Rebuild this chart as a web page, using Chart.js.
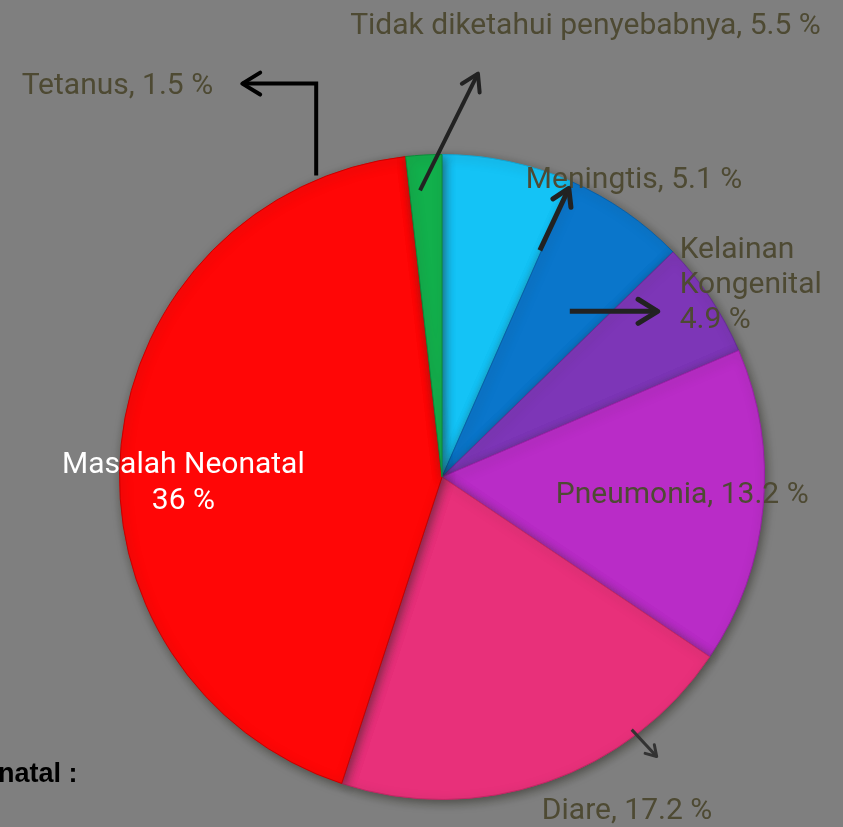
<!DOCTYPE html>
<html><head><meta charset="utf-8">
<script src="https://cdn.jsdelivr.net/npm/chart.js@4"></script>
<style>
html,body{margin:0;padding:0;background:#7f7f7f;overflow:hidden}
#wrap{width:843px;height:827px;position:relative}
</style>
</head><body><div id="wrap"><canvas id="c" width="843" height="827"></canvas></div>
<script>
// ---- data ----
const categories = ['Tidak diketahui penyebabnya', 'Meningtis', 'Kelainan Kongenital', 'Pneumonia', 'Diare', 'Masalah Neonatal', 'Tetanus'];
const values = [5.5, 5.1, 4.9, 13.2, 17.2, 36, 1.5];
const sliceColors = ['#14c3f6', '#0a76cb', '#7d36b7', '#b92cc7', '#e8307a', '#ff0606', '#12b04c'];
const sliceBorders = ['#0ea7d6', '#0760a8', '#652c96', '#9a20a8', '#c42665', '#c80000', '#0c8c3a'];
const sideCaption = 'Masalah Neonatal :';

// ---- annotation layout (offsets from pie centre, in units where radius = 323) ----
const REF_R = 323;
const labelStyle = { font: '400 30px Roboto, "Liberation Sans", sans-serif', color: '#4e4a33' };
const labelLayout = [
  { i: 0, align: 'left', lines: [0], dx: -92, dy: -444 },
  { i: 1, align: 'left', lines: [0], dx: 84, dy: -289 },
  { i: 2, align: 'left', lines: [0, 35, 70], dx: 238, dy: -219, split: true },
  { i: 3, align: 'left', lines: [0], dx: 114, dy: 26 },
  { i: 4, align: 'left', lines: [0], dx: 100, dy: 343 },
  { i: 5, align: 'center', lines: [0, 36], dx: -259, dy: -4, split: true, color: '#ffffff' },
  { i: 6, align: 'left', lines: [0], dx: -421, dy: -384 }
];
const arrows = [
  { pts: [[-126, -302], [-126, -394], [-200, -394]], w: 4, color: '#000000', head: 21 },
  { pts: [[-22, -287], [36, -404]], w: 4, color: '#222222', head: 19 },
  { pts: [[98, -227], [127, -289]], w: 5, color: '#222222', head: 19 },
  { pts: [[128, -166], [216, -166]], w: 5, color: '#222222', head: 23 },
  { pts: [[190, 253], [215, 280]], w: 3, color: '#333333', head: 12 }
];

const annot = {
  id: 'annot',
  afterDraw(chart) {
    const ctx = chart.ctx;
    const arc = chart.getDatasetMeta(0).data[0];
    const cx = arc.x, cy = arc.y, k = arc.outerRadius / REF_R;
    const X = dx => cx + dx * k, Y = dy => cy + dy * k;
    ctx.save();
    // labels
    ctx.font = labelStyle.font;
    ctx.textBaseline = 'alphabetic';
    labelLayout.forEach(L => {
      const name = categories[L.i], v = values[L.i];
      let texts;
      if (L.split && L.lines.length === 3) {
        const parts = name.split(' ');
        texts = [parts[0], parts[1], v + ' %'];
      } else if (L.split) {
        texts = [name, v + ' %'];
      } else {
        texts = [name + ', ' + v + ' %'];
      }
      ctx.fillStyle = L.color || labelStyle.color;
      ctx.textAlign = L.align;
      texts.forEach((t, j) => ctx.fillText(t, X(L.dx), Y(L.dy) + L.lines[j]));
    });
    // side caption (cut at left edge)
    ctx.font = 'bold 27px "Liberation Sans Narrow", "Liberation Sans", sans-serif';
    ctx.fillStyle = '#000000';
    ctx.textAlign = 'right';
    ctx.fillText(sideCaption, X(-365), Y(305));
    // arrows
    arrows.forEach(A => {
      ctx.strokeStyle = A.color;
      ctx.lineWidth = A.w;
      ctx.lineCap = 'butt';
      ctx.lineJoin = 'miter';
      ctx.beginPath();
      A.pts.forEach((p, j) => j ? ctx.lineTo(X(p[0]), Y(p[1])) : ctx.moveTo(X(p[0]), Y(p[1])));
      ctx.stroke();
      const n = A.pts.length;
      const [ax, ay] = A.pts[n - 2], [bx, by] = A.pts[n - 1];
      const ang = Math.atan2(by - ay, bx - ax);
      const h = A.head * k, sp = 0.55;
      ctx.lineJoin = 'round';
      ctx.lineCap = 'round';
      ctx.beginPath();
      ctx.moveTo(X(bx) - h * Math.cos(ang - sp), Y(by) - h * Math.sin(ang - sp));
      ctx.lineTo(X(bx), Y(by));
      ctx.lineTo(X(bx) - h * Math.cos(ang + sp), Y(by) - h * Math.sin(ang + sp));
      ctx.stroke();
    });
    ctx.restore();
  }
};

const shadow = {
  id: 'shadow',
  beforeDatasetsDraw(chart) {
    const ctx = chart.ctx;
    ctx.save();
    ctx.shadowColor = 'rgba(40,40,30,0.55)';
    ctx.shadowBlur = 10;
    ctx.shadowOffsetX = 2;
    ctx.shadowOffsetY = 3;
  },
  afterDatasetsDraw(chart) { chart.ctx.restore(); }
};

new Chart(document.getElementById('c'), {
  type: 'pie',
  data: {
    labels: categories,
    datasets: [{
      data: values,
      backgroundColor: sliceColors,
      borderColor: sliceBorders,
      borderWidth: 1,
      offset: 0,
      hoverOffset: 0
    }]
  },
  options: {
    responsive: false,
    animation: false,
    events: [],
    rotation: 0,
    layout: { padding: { left: 119, right: 78, top: 154, bottom: 27 } },
    plugins: { legend: { display: false }, tooltip: { enabled: false } }
  },
  plugins: [shadow, annot]
});
</script>
</body></html>
